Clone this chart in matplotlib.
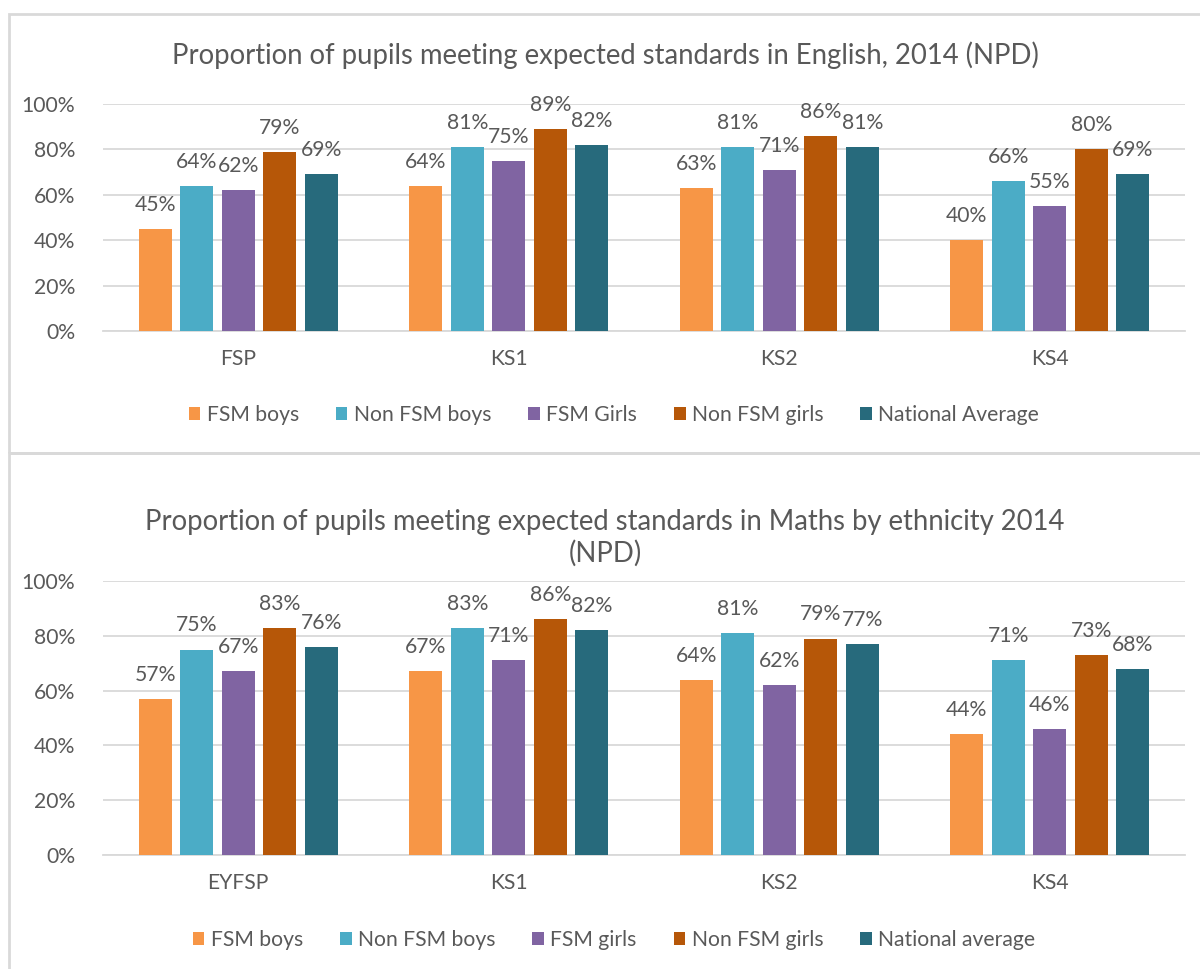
import matplotlib
matplotlib.use("Agg")
import matplotlib.pyplot as plt
from matplotlib.patches import Rectangle, Patch

plt.rcParams['font.family'] = ['Lato', 'DejaVu Sans']

series_top = ["FSM boys", "Non FSM boys", "FSM Girls", "Non FSM girls", "National Average"]
series_bot = ["FSM boys", "Non FSM boys", "FSM girls", "Non FSM girls", "National average"]
cats_top = ["FSP", "KS1", "KS2", "KS4"]
cats_bot = ["EYFSP", "KS1", "KS2", "KS4"]

eng_fsm_boys = [45, 64, 63, 40]
eng_non_fsm_boys = [64, 81, 81, 66]
eng_fsm_girls = [62, 75, 71, 55]
eng_non_fsm_girls = [79, 89, 86, 80]
eng_national = [69, 82, 81, 69]

mat_fsm_boys = [57, 67, 64, 44]
mat_non_fsm_boys = [75, 83, 81, 71]
mat_fsm_girls = [67, 71, 62, 46]
mat_non_fsm_girls = [83, 86, 79, 73]
mat_national = [76, 82, 77, 68]

title_top = "Proportion of pupils meeting expected standards in English, 2014 (NPD)"
title_bot = "Proportion of pupils meeting expected standards in Maths by ethnicity 2014\n(NPD)"

colors = ["#F79646", "#4BACC6", "#8064A2", "#B65708", "#276A7C"]
GRAY = "#595959"
GRID = "#D9D9D9"

W, H = 1200, 969
fig = plt.figure(figsize=(W / 100, H / 100), dpi=100)

def fx(px):
    return px / W

def fy(py):
    return 1 - py / H

# chart borders
fig.patches.append(Rectangle((fx(9), fy(453)), fx(1200), (14 - 453) / -H, transform=fig.transFigure,
                             fill=False, edgecolor=GRID, lw=2))
fig.patches.append(Rectangle((fx(9), fy(975)), fx(1200), (453 - 975) / -H, transform=fig.transFigure,
                             fill=False, edgecolor=GRID, lw=2))

LBL = 15.2

def draw(ax, cats, data, labels, title, title_y, legend_y):
    n = len(data)
    step = 0.1534
    width = 0.122
    xs = range(len(cats))
    for i, (vals, c) in enumerate(zip(data, colors)):
        off = (i - (n - 1) / 2) * step
        pos = [x + off for x in xs]
        ax.bar(pos, vals, width=width, color=c, zorder=3, label=labels[i])
        for p, v in zip(pos, vals):
            ax.annotate(f"{v}%", (p, v), xytext=(0, 13), textcoords="offset points",
                        ha="center", va="baseline", fontsize=LBL, color=GRAY)
    ax.set_xlim(-0.5, len(cats) - 0.5)
    ax.set_ylim(0, 100)
    ax.set_yticks(range(0, 101, 20))
    ax.set_yticklabels([f"{t}%" for t in range(0, 101, 20)])
    ax.set_xticks(list(xs))
    ax.set_xticklabels(cats)
    ax.yaxis.grid(True, color=GRID, lw=1.3, zorder=0)
    for s in ["top", "right", "left"]:
        ax.spines[s].set_visible(False)
    ax.spines["bottom"].set_color(GRID)
    ax.spines["bottom"].set_linewidth(1.3)
    ax.tick_params(axis="both", length=0, labelsize=LBL, labelcolor=GRAY)
    ax.tick_params(axis="y", pad=20)
    ax.tick_params(axis="x", pad=13)
    fig.text(fx(605), fy(title_y), title, ha="center", va="center", fontsize=19.8, color=GRAY,
             linespacing=1.25)
    handles = [Patch(facecolor=c, label=l) for c, l in zip(colors, labels)]
    fig.legend(handles=handles, loc="center", bbox_to_anchor=(fx(614), fy(legend_y)), ncol=5,
               frameon=False, fontsize=LBL, labelcolor=GRAY, handlelength=0.55, handleheight=0.55,
               handletextpad=0.3, columnspacing=1.75)

ax1 = fig.add_axes([fx(103), fy(331), fx(1185) - fx(103), (331 - 104) / H])
draw(ax1, cats_top,
     [eng_fsm_boys, eng_non_fsm_boys, eng_fsm_girls, eng_non_fsm_girls, eng_national],
     series_top, title_top, 55, 415)

ax2 = fig.add_axes([fx(103), fy(855), fx(1185) - fx(103), (855 - 581) / H])
draw(ax2, cats_bot,
     [mat_fsm_boys, mat_non_fsm_boys, mat_fsm_girls, mat_non_fsm_girls, mat_national],
     series_bot, title_bot, 538, 940)

fig.savefig("out.png", dpi=100)
